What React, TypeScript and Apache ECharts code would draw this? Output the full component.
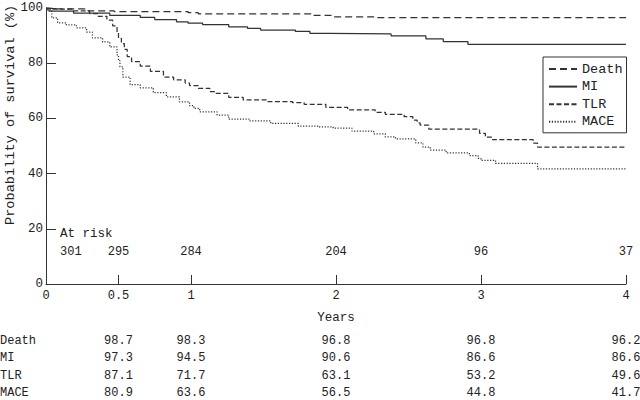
import React, { useEffect, useRef } from "react";
import * as echarts from "echarts";

const seriesNames = ["Death", "MI", "TLR", "MACE"];

const deathCurve = [
  [0, 100], [0.05, 99.7], [0.29, 99.0], [0.47, 98.7], [0.98, 98.3], [1.05, 97.9],
  [1.84, 97.3], [1.97, 96.8], [2.27, 96.5], [4, 96.5],
];
const miCurve = [
  [0, 100], [0.02, 98.9], [0.19, 98.1], [0.44, 97.3], [0.65, 96.6], [0.75, 95.8],
  [0.9, 95.0], [0.98, 94.5], [1.08, 94.0], [1.26, 93.2], [1.39, 92.6], [1.48, 92.0],
  [1.72, 91.5], [1.82, 90.8], [1.95, 90.6], [2.38, 89.9], [2.62, 88.8], [2.74, 87.8],
  [2.91, 86.8], [4, 86.8],
];
const tlrCurve = [
  [0, 100], [0.03, 99.6], [0.19, 99.0], [0.3, 98.0], [0.36, 97.0], [0.42, 95.6],
  [0.46, 93.5], [0.49, 91.0], [0.5, 89.0], [0.52, 87.1], [0.54, 85.0], [0.56, 82.4],
  [0.59, 80.6], [0.65, 78.9], [0.72, 77.0], [0.81, 75.0], [0.88, 74.0], [0.96, 72.8],
  [0.99, 71.9], [1.05, 70.9], [1.13, 69.7], [1.17, 69.1], [1.26, 67.6], [1.36, 66.7],
  [1.53, 66.1], [1.7, 65.7], [1.78, 65.1], [1.93, 64.0], [2.08, 63.1], [2.27, 62.2],
  [2.34, 61.5], [2.47, 60.6], [2.53, 59.4], [2.56, 58.4], [2.58, 57.6], [2.64, 56.1],
  [2.99, 54.6], [3.03, 53.2], [3.08, 52.3], [3.36, 51.0], [3.39, 49.6], [4, 49.6],
];
const maceCurve = [
  [0, 100], [0.007, 99.3], [0.04, 96.4], [0.08, 94.6], [0.14, 93.9], [0.21, 92.8],
  [0.28, 91.3], [0.32, 89.2], [0.39, 87.7], [0.44, 85.9], [0.49, 83.0], [0.5, 80.9],
  [0.51, 78.7], [0.53, 75.0], [0.58, 72.2], [0.65, 71.1], [0.74, 69.3], [0.83, 67.8],
  [0.92, 66.0], [0.99, 64.6], [1.02, 63.6], [1.06, 62.4], [1.18, 61.2], [1.26, 59.7],
  [1.4, 59.1], [1.55, 58.2], [1.74, 57.2], [1.88, 56.9], [1.98, 56.5], [2.11, 55.4],
  [2.26, 54.4], [2.34, 53.3], [2.41, 52.6], [2.55, 51.1], [2.6, 49.6], [2.65, 48.5],
  [2.76, 47.5], [2.92, 46.5], [2.98, 45.5], [3.0, 44.8], [3.1, 43.7], [3.39, 41.7],
  [4, 41.7],
];

const tickYears = [0, 0.5, 1, 2, 3, 4];
const tickLabels = ["0", "0.5", "1", "2", "3", "4"];
const riskYears = [0, 0.5, 1, 2, 3, 4];
const atRisk = [301, 295, 284, 204, 96, 37];
const tableYears = [0.5, 1, 2, 3, 4];
const deathTable = ["98.7", "98.3", "96.8", "96.8", "96.2"];
const miTable = ["97.3", "94.5", "90.6", "86.6", "86.6"];
const tlrTable = ["87.1", "71.7", "63.1", "53.2", "49.6"];
const maceTable = ["80.9", "63.6", "56.5", "44.8", "41.7"];

const FONT = "'Liberation Mono', 'DejaVu Sans Mono', monospace";
const INK = "#222";
const LINE = "#333";

export default function App() {
  const ref = useRef<HTMLDivElement>(null);

  useEffect(() => {
    if (!ref.current) return;
    const chart = echarts.init(ref.current, null, { renderer: "svg" });
    const curves = [deathCurve, miCurve, tlrCurve, maceCurve];
    const dashes: any[] = [[7, 4], "solid", [5, 2.5], [1.2, 1.6]];
    chart.setOption({
      animation: false,
      textStyle: { fontFamily: FONT, color: INK },
      grid: { left: 46, right: 14, top: 8, bottom: 116 },
      xAxis: {
        type: "value",
        min: 0,
        max: 4,
        name: "Years",
        nameLocation: "middle",
        nameGap: 27,
        nameTextStyle: { fontFamily: FONT, fontSize: 12.5, color: INK },
        axisLine: { show: true, lineStyle: { color: LINE, width: 1 } },
        axisTick: { show: true, inside: true, length: 9, customValues: [0.5, 1, 2, 3, 4], lineStyle: { color: LINE } },
        axisLabel: {
          customValues: tickYears,
          formatter: (v: number) => tickLabels[tickYears.indexOf(v)] ?? String(v),
          fontFamily: FONT,
          fontSize: 12,
          color: INK,
          margin: 6,
        },
        splitLine: { show: false },
      },
      yAxis: {
        type: "value",
        min: 0,
        max: 100,
        interval: 20,
        axisLine: { show: true, lineStyle: { color: LINE, width: 1 } },
        axisTick: { show: true, inside: true, length: 10, lineStyle: { color: LINE } },
        axisLabel: { fontFamily: FONT, fontSize: 12.5, color: INK, margin: 3 },
        splitLine: { show: false },
      },
      legend: {
        data: seriesNames,
        orient: "vertical",
        left: 543,
        top: 57,
        padding: [5, 4, 4, 5],
        itemWidth: 28,
        itemHeight: 14,
        itemGap: 3.6,
        borderColor: LINE,
        borderWidth: 1,
        borderRadius: 0,
        selectedMode: false,
        itemStyle: { opacity: 0, borderWidth: 0 },
        textStyle: { fontFamily: FONT, fontSize: 13.5, color: INK },
      },
      series: seriesNames.map((name, i) => ({
        name,
        type: "line",
        step: "end",
        symbol: "none",
        showSymbol: false,
        data: curves[i],
        lineStyle: { color: LINE, width: 1.25, type: dashes[i] },
        itemStyle: { color: LINE },
      })),
    });

    const px = (t: number) => chart.convertToPixel({ xAxisIndex: 0 }, t) as number;
    const g: any[] = [];
    g.push({
      type: "text",
      x: 10,
      y: 225,
      rotation: Math.PI / 2,
      style: {
        text: "Probability of survival (%)",
        fontFamily: FONT,
        fontSize: 13.6,
        fill: INK,
        textAlign: "left",
        textVerticalAlign: "middle",
      },
    });
    const x0 = px(0);
    g.push({
      type: "text",
      x: x0 + 14,
      y: 234,
      style: { text: "At risk", fontFamily: FONT, fontSize: 12.5, fill: INK, textAlign: "left", textVerticalAlign: "middle" },
    });
    riskYears.forEach((t, i) => {
      g.push({
        type: "text",
        x: i === 0 ? x0 + 14 : px(t),
        y: 252,
        style: {
          text: String(atRisk[i]),
          fontFamily: FONT,
          fontSize: 12,
          fill: INK,
          textAlign: i === 0 ? "left" : "center",
          textVerticalAlign: "middle",
        },
      });
    });
    const rows = [deathTable, miTable, tlrTable, maceTable];
    const rowY = [341, 358, 376, 393];
    rows.forEach((vals, r) => {
      g.push({
        type: "text",
        x: 0,
        y: rowY[r],
        style: { text: seriesNames[r], fontFamily: FONT, fontSize: 12, fill: INK, textAlign: "left", textVerticalAlign: "middle" },
      });
      tableYears.forEach((t, j) => {
        g.push({
          type: "text",
          x: px(t),
          y: rowY[r],
          style: { text: vals[j], fontFamily: FONT, fontSize: 12, fill: INK, textAlign: "center", textVerticalAlign: "middle" },
        });
      });
    });
    chart.setOption({ graphic: g });

    return () => chart.dispose();
  }, []);

  return (
    <div
      ref={ref}
      style={{ position: "absolute", left: 0, top: 0, width: 640, height: 400, background: "#fff" }}
    />
  );
}
